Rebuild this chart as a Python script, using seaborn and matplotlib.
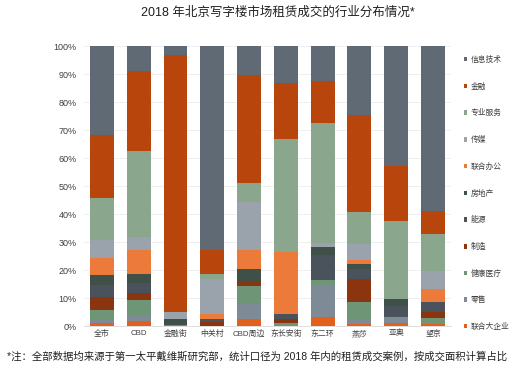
import numpy as np
import pandas as pd
import matplotlib
matplotlib.use("Agg")
import matplotlib.pyplot as plt
import seaborn as sns

# 数据 (每个区域的行业占比, %)
districts = ['全市', 'CBD', '金融街', '中关村', 'CBD周边', '东长安街', '东二环', '燕莎', '亚奥', '望京']

lianhe_dqy = [1.1, 1.9, 0.4, 0.0, 2.4, 0.0, 3.2, 0.7, 1.2, 0.7]   # 联合大企业
lingshou = [1.3, 1.7, 0.0, 0.0, 5.5, 0.0, 11.4, 1.5, 1.9, 0.0]    # 零售
jiankang = [3.3, 5.7, 0.0, 0.0, 6.4, 1.0, 2.0, 6.5, 0.0, 2.2]     # 健康医疗
zhizao = [4.8, 2.6, 0.0, 1.5, 1.6, 1.4, 0.0, 8.0, 0.0, 2.2]       # 制造
nengyuan = [4.2, 3.4, 0.0, 0.9, 0.0, 1.9, 8.7, 3.6, 4.1, 3.6]     # 能源
fangdichan = [3.6, 3.3, 2.0, 0.0, 4.4, 0.0, 2.8, 1.8, 2.4, 0.0]   # 房地产
lianhe_bg = [5.8, 8.6, 0.0, 1.9, 6.9, 22.3, 0.0, 1.6, 0.0, 4.6]   # 联合办公
chuanmei = [6.5, 4.6, 2.7, 12.4, 17.0, 0.0, 1.7, 5.6, 0.0, 6.2]   # 传媒
zhuanye = [15.0, 30.7, 0.0, 1.8, 6.9, 40.1, 43.0, 11.3, 27.8, 13.5]  # 专业服务
jinrong = [22.5, 28.7, 91.7, 8.5, 38.6, 20.0, 15.0, 34.7, 19.9, 8.0]  # 金融
xinxi = [31.7, 8.8, 3.2, 73.0, 10.3, 13.3, 12.4, 24.7, 42.7, 59.0]   # 信息技术

# 从下到上的堆叠顺序
layers = [
    ('联合大企业', lianhe_dqy, '#e2601c'),
    ('零售', lingshou, '#7e8a96'),
    ('健康医疗', jiankang, '#6e9676'),
    ('制造', zhizao, '#8a3510'),
    ('能源', nengyuan, '#4a525b'),
    ('房地产', fangdichan, '#3f5049'),
    ('联合办公', lianhe_bg, '#ec7a3a'),
    ('传媒', chuanmei, '#9aa2ac'),
    ('专业服务', zhuanye, '#8aa78e'),
    ('金融', jinrong, '#b8460c'),
    ('信息技术', xinxi, '#5f6a74'),
]

vals = np.array([l[1] for l in layers], dtype=float)
vals = vals / vals.sum(axis=0) * 100
cum = np.cumsum(vals, axis=0)

sns.set_style("white")
plt.rcParams['font.family'] = ['Liberation Sans', 'Noto Sans CJK SC']

fig = plt.figure(figsize=(5.32, 3.85), dpi=100)
ax = fig.add_axes([0.157, 0.1532, 0.6915, 0.7273])

# 叠加柱: 从最高累计值开始画, 下面的层覆盖上面的
for i in range(len(layers) - 1, -1, -1):
    name, _, color = layers[i]
    df = pd.DataFrame({'区域': districts, '累计': cum[i]})
    sns.barplot(data=df, x='区域', y='累计', color=color, saturation=1,
                width=0.65, linewidth=0, label=name, ax=ax, zorder=2)

ax.set_ylim(0, 100)
ax.set_xlim(-0.5, len(districts) - 0.5)
ax.set_yticks(np.arange(0, 101, 10))
ax.set_yticklabels([f'{v}%' for v in range(0, 101, 10)])
ax.set_xlabel('')
ax.set_ylabel('')
ax.tick_params(axis='y', length=0, pad=5, labelsize=6.5, colors='#404040')
ax.tick_params(axis='x', length=0, pad=3, labelsize=5.7, colors='#404040')
ax.yaxis.grid(True, color='#ececec', linewidth=0.6, zorder=0)
ax.set_axisbelow(True)
for s in ['left', 'right', 'top']:
    ax.spines[s].set_visible(False)
ax.spines['bottom'].set_color('#d9d9d9')
ax.spines['bottom'].set_linewidth(0.6)

leg = ax.legend(loc='center left', bbox_to_anchor=(0.864, 0.4975),
                bbox_transform=fig.transFigure, frameon=False, fontsize=5.6,
                handlelength=0.5, handleheight=0.5, handletextpad=0.4,
                labelspacing=2.4, borderpad=0)
for t in leg.get_texts():
    t.set_color('#404040')

fig.text(0.522, 1 - 13 / 385, '2018 年北京写字楼市场租赁成交的行业分布情况*',
         ha='center', va='center', fontsize=9, color='#202020')
fig.text(0.483, 1 - 357 / 385,
         '*注：全部数据均来源于第一太平戴维斯研究部，统计口径为 2018 年内的租赁成交案例，按成交面积计算占比',
         ha='center', va='center', fontsize=7.5, color='#202020')

fig.savefig('out.png', dpi=100)
